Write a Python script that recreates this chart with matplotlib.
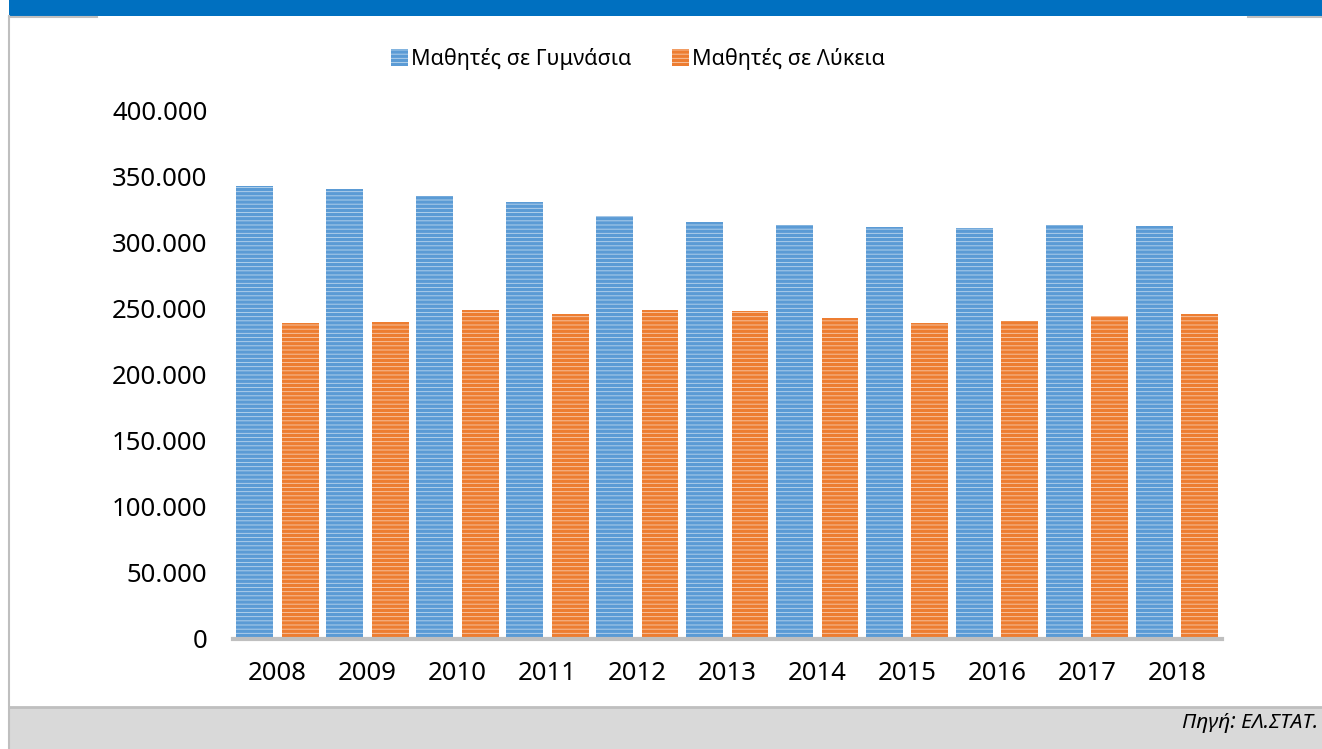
import matplotlib
matplotlib.use('Agg')
import matplotlib.pyplot as plt
from matplotlib.patches import Rectangle
from matplotlib.ticker import FuncFormatter
import numpy as np

# δεδομένα (εκτίμηση από το διάγραμμα)
έτη = ['2008', '2009', '2010', '2011', '2012', '2013', '2014', '2015', '2016', '2017', '2018']
γυμνάσια = [342900, 340800, 335800, 331200, 320600, 315800, 313500, 311800, 311600, 313500, 313000]
λύκεια = [239200, 240200, 249100, 245800, 249100, 248300, 243300, 239000, 240700, 244300, 245800]
ονόματα = ['Μαθητές σε Γυμνάσια', 'Μαθητές σε Λύκεια']
yticks = [0, 50000, 100000, 150000, 200000, 250000, 300000, 350000, 400000]

plt.rcParams['font.family'] = ['Noto Sans', 'DejaVu Sans']
plt.rcParams['hatch.linewidth'] = 2.4

W, H = 1322, 749
fig = plt.figure(figsize=(W / 100, H / 100), dpi=100)
fig.patch.set_facecolor('white')

# πλαίσιο: μπλε ταινία τίτλου, περίγραμμα, υποσέλιδο
fig.patches.append(Rectangle((9 / W, 1 - 16 / H), 1, 16 / H, transform=fig.transFigure,
                             facecolor='#0070C0', edgecolor='none', zorder=0))
fig.patches.append(Rectangle((9 / W, 0), 1, 42 / H, transform=fig.transFigure,
                             facecolor='#D9D9D9', edgecolor='none', zorder=0))
fig.lines.append(plt.Line2D([9 / W, 1], [42 / H, 42 / H], transform=fig.transFigure,
                            color='#BFBFBF', lw=2))
fig.lines.append(plt.Line2D([8.5 / W, 8.5 / W], [0, 1 - 16 / H], transform=fig.transFigure,
                            color='#BFBFBF', lw=1.5))
for x0, x1 in [(9, 97), (1248, 1322)]:
    fig.lines.append(plt.Line2D([x0 / W, x1 / W], [1 - 17 / H, 1 - 17 / H],
                                transform=fig.transFigure, color='#BFBFBF', lw=1.5))

ax = fig.add_axes([232.5 / W, 110.5 / H, (1222 - 232.5) / W, (638.5 - 111) / H])
x = np.arange(len(έτη))
πλάτος = 0.41
ax.bar(x - 0.253, γυμνάσια, πλάτος, facecolor='#BDD7EE', edgecolor='#5B9BD5',
       hatch='----', linewidth=0, label=ονόματα[0])
ax.bar(x + 0.253, λύκεια, πλάτος, facecolor='#F8CBAD', edgecolor='#ED7D31',
       hatch='----', linewidth=0, label=ονόματα[1])

ax.set_xlim(-0.5, len(έτη) - 0.5)
ax.set_ylim(0, 400000)
ax.set_yticks(yticks)
ax.yaxis.set_major_formatter(FuncFormatter(lambda v, p: f'{int(v):,}'.replace(',', '.')))
ax.set_xticks(x)
ax.set_xticklabels(έτη)
ax.tick_params(axis='both', length=0, labelsize=18.5, colors='black')
ax.tick_params(axis='y', pad=18)
ax.tick_params(axis='x', pad=16)
for s in ['top', 'right', 'left']:
    ax.spines[s].set_visible(False)
ax.spines['bottom'].set_color('#BFBFBF')
ax.spines['bottom'].set_linewidth(3)

fig.legend(loc='center', bbox_to_anchor=(638 / W, 1 - 59 / H), ncol=2, frameon=False,
           fontsize=15.5, handlelength=0.8, handleheight=0.8, handletextpad=0.15,
           columnspacing=1.85)

fig.text(1318 / W, 26.5 / H, 'Πηγή: ΕΛ.ΣΤΑΤ.', ha='right', va='center',
         fontsize=15, style='italic')

fig.savefig('out.png', dpi=100)
